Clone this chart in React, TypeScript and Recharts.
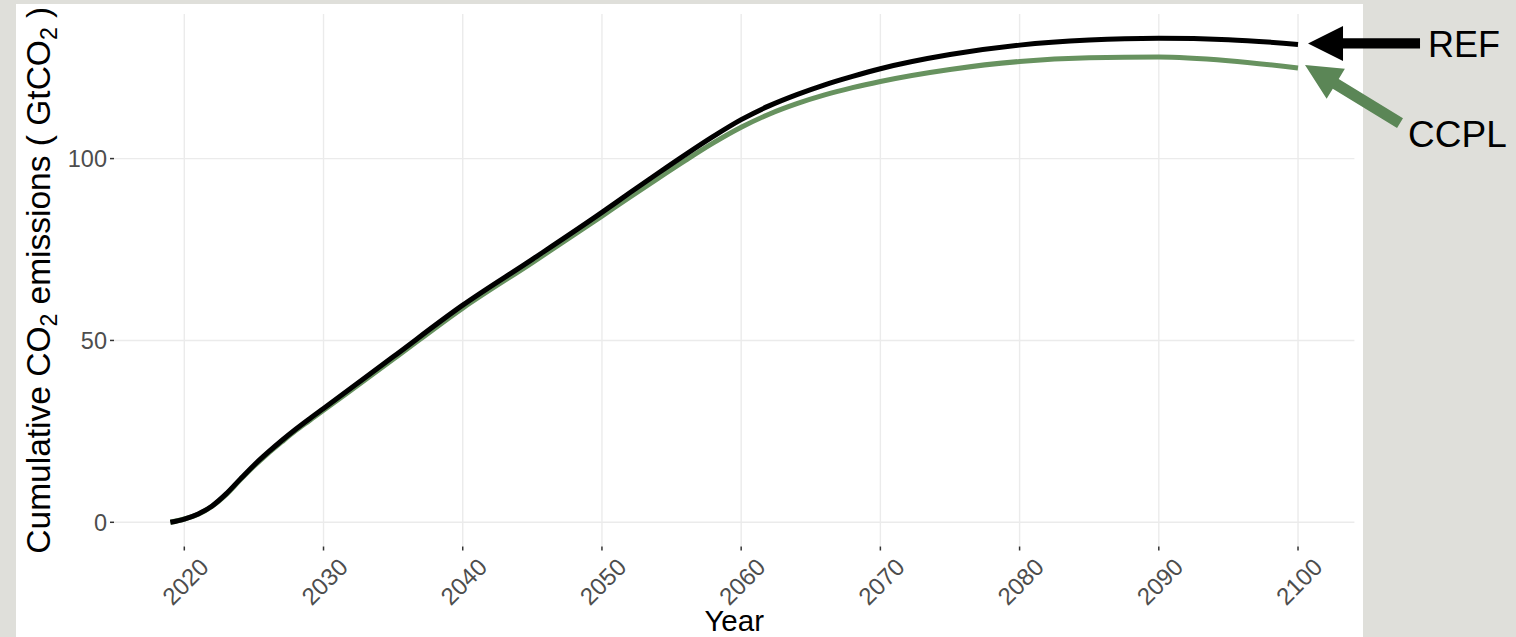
import React from 'react';
import { LineChart, Line, XAxis, YAxis, ReferenceLine, ReferenceDot, Label } from 'recharts';

// Cumulative CO2 emissions (GtCO2) by year for the two scenarios
const years = [2019, 2020, 2021, 2022, 2023, 2024, 2025, 2026, 2027, 2028, 2029, 2030, 2035, 2040, 2045, 2050, 2052, 2054, 2056, 2058, 2060, 2062, 2064, 2066, 2068, 2070, 2075, 2080, 2085, 2090, 2095, 2100];
const refValues = [0, 0.9, 2.3, 4.5, 7.8, 11.8, 15.7, 19.2, 22.5, 25.6, 28.5, 31.3, 45.5, 59.7, 72.3, 85.2, 90.6, 95.9, 101.1, 106.1, 110.7, 114.5, 117.6, 120.3, 122.6, 124.7, 128.6, 131.2, 132.6, 133.1, 132.7, 131.4];
const ccplValues = [0, 0.9, 2.2, 4.4, 7.6, 11.6, 15.4, 18.9, 22.1, 25.2, 28.0, 30.8, 44.8, 58.9, 71.4, 84.2, 89.4, 94.5, 99.5, 104.3, 108.6, 112.2, 115.1, 117.5, 119.5, 121.2, 124.5, 126.7, 127.7, 127.9, 126.9, 124.9];
const xTicks = [2020, 2030, 2040, 2050, 2060, 2070, 2080, 2090, 2100];
const yTicks = [0, 50, 100];
const seriesNames = ['REF', 'CCPL'];

const data = years.map((year, i) => ({ year, REF: refValues[i], CCPL: ccplValues[i] }));

// ggplot-style 5% expansion of the data range
const xMin = Math.min(...years);
const xMax = Math.max(...years);
const xPad = (xMax - xMin) * 0.05;
const yLo = Math.min(...refValues, ...ccplValues);
const yHi = Math.max(...refValues, ...ccplValues);
const yPad = (yHi - yLo) * 0.05;

const FONT = '"Liberation Sans", Arial, Helvetica, sans-serif';
const PAGE_BG = '#dfdfda';
const GRID = '#ebebeb';
const REF_COLOR = '#000000';
const CCPL_LINE = '#67925f';
const CCPL_ARROW = '#5b8656';

// Polygon for a straight arrow: shaft plus triangular head
function arrowPoints(tipX: number, tipY: number, tailX: number, tailY: number, headLen: number, headHalf: number, shaftHalf: number) {
  const dx = tailX - tipX;
  const dy = tailY - tipY;
  const len = Math.hypot(dx, dy);
  const ux = dx / len;
  const uy = dy / len;
  const px = -uy;
  const py = ux;
  const bx = tipX + ux * headLen;
  const by = tipY + uy * headLen;
  const pts = [
    [tipX, tipY],
    [bx + px * headHalf, by + py * headHalf],
    [bx + px * shaftHalf, by + py * shaftHalf],
    [tailX + px * shaftHalf, tailY + py * shaftHalf],
    [tailX - px * shaftHalf, tailY - py * shaftHalf],
    [bx - px * shaftHalf, by - py * shaftHalf],
    [bx - px * headHalf, by - py * headHalf],
  ];
  return pts.map((p) => p.join(',')).join(' ');
}

const RefCallout = (props: any) => {
  const { cx, cy } = props;
  if (cx == null || cy == null) return null;
  return (
    <g>
      <polygon points={arrowPoints(cx + 10, cy - 1, cx + 122, cy - 1, 35, 17.5, 5.2)} fill={REF_COLOR} />
      <text x={cx + 130} y={cy + 13} fontSize={36} fill="#000" fontFamily={FONT}>{seriesNames[0]}</text>
    </g>
  );
};

const CcplCallout = (props: any) => {
  const { cx, cy } = props;
  if (cx == null || cy == null) return null;
  return (
    <g>
      <polygon points={arrowPoints(cx + 7, cy - 3, cx + 102, cy + 55, 36, 17.5, 5.7)} fill={CCPL_ARROW} />
      <text x={cx + 110} y={cy + 79} fontSize={37} fill="#000" fontFamily={FONT}>{seriesNames[1]}</text>
    </g>
  );
};

const YearTick = (props: any) => {
  const { x, y, payload } = props;
  return (
    <g transform={`translate(${x + 1},${y + 29})`}>
      <text textAnchor="middle" dominantBaseline="central" transform="rotate(-45)" fontSize={24} fill="#4d4d4d" fontFamily={FONT}>
        {payload.value}
      </text>
    </g>
  );
};

const XTitle = (props: any) => {
  const vb = props.viewBox || {};
  const cx = (vb.x ?? 0) + (vb.width ?? 0) / 2;
  return (
    <text x={cx} y={631} textAnchor="middle" fontSize={29.5} fill="#000" fontFamily={FONT}>Year</text>
  );
};

const YTitle = (props: any) => {
  const vb = props.viewBox || {};
  const cy = (vb.y ?? 0) + (vb.height ?? 0) / 2;
  const cx = 50;
  return (
    <text x={cx} y={cy} transform={`rotate(-90, ${cx}, ${cy})`} textAnchor="middle" fontSize={33.5} fill="#000" fontFamily={FONT}>
      Cumulative CO<tspan fontSize={23} dy={7}>2</tspan>
      <tspan dy={-7}> emissions ( GtCO</tspan>
      <tspan fontSize={23} dy={7}>2</tspan>
      <tspan dy={-7}> )</tspan>
    </text>
  );
};

export default function App() {
  const last = years.length - 1;
  return (
    <div style={{ position: 'fixed', left: 0, top: 0, width: 1516, height: 637, background: PAGE_BG, overflow: 'hidden', fontFamily: FONT }}>
      <div style={{ position: 'absolute', left: 16, top: 4, width: 1347, height: 633, background: '#ffffff' }} />
      <div style={{ position: 'absolute', left: 0, top: 0 }}>
        <LineChart width={1516} height={637} data={data} margin={{ top: 14, right: 161.6, bottom: 0, left: 0 }}>
          <XAxis
            dataKey="year"
            type="number"
            domain={[xMin - xPad, xMax + xPad]}
            ticks={xTicks}
            allowDataOverflow
            height={90.5}
            axisLine={false}
            tickSize={4}
            tickLine={{ stroke: '#333333', strokeWidth: 1.5 }}
            tick={<YearTick />}
            interval={0}
          >
            <Label content={<XTitle />} />
          </XAxis>
          <YAxis
            type="number"
            domain={[yLo - yPad, yHi + yPad]}
            ticks={yTicks}
            allowDataOverflow
            width={114}
            axisLine={false}
            tickSize={4}
            tickMargin={3}
            tickLine={{ stroke: '#333333', strokeWidth: 1.5 }}
            tick={{ fill: '#4d4d4d', fontSize: 23.5, fontFamily: FONT }}
            interval={0}
          >
            <Label content={<YTitle />} />
          </YAxis>
          {yTicks.map((t) => (
            <ReferenceLine key={`h${t}`} y={t} stroke={GRID} strokeWidth={1.4} />
          ))}
          {xTicks.map((t) => (
            <ReferenceLine key={`v${t}`} x={t} stroke={GRID} strokeWidth={1.4} />
          ))}
          <Line type="monotone" dataKey="CCPL" stroke={CCPL_LINE} strokeWidth={5} dot={false} isAnimationActive={false} />
          <Line type="monotone" dataKey="REF" stroke={REF_COLOR} strokeWidth={5} dot={false} isAnimationActive={false} />
          <ReferenceDot x={years[last]} y={refValues[last]} r={0} shape={<RefCallout />} />
          <ReferenceDot x={years[last]} y={ccplValues[last]} r={0} shape={<CcplCallout />} />
        </LineChart>
      </div>
    </div>
  );
}
